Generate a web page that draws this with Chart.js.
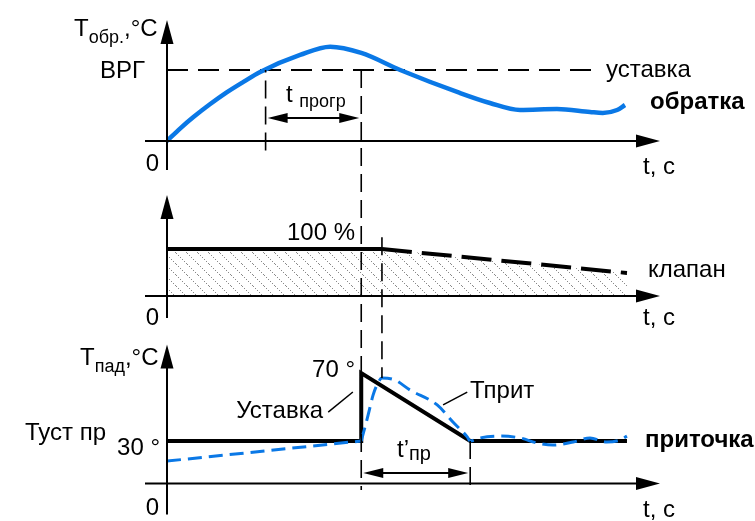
<!DOCTYPE html>
<html>
<head>
<meta charset="utf-8">
<script src="https://cdn.jsdelivr.net/npm/chart.js@4/dist/chart.umd.min.js"></script>
<style>
html, body { margin: 0; background: #fff; }
</style>
</head>
<body>
<canvas id="c" width="755" height="521"></canvas>
<script>
// time marks (arbitrary units, 0..100 across the plot)
const T_CROSS = 20;     // return temp crosses ВРГ
const T_STEP = 39.4;    // end of t прогр, supply setpoint jumps
const T_VALVE = 43.6;   // valve starts closing
const T_SETTLE = 61.5;  // end of t'пр
const T_END = 93.3;

const VRG = 60; // уставка ВРГ (relative)

// обратка (return water)
const obrT = [0, 2.7, 5.3, 8.7, 12.1, 15.5, 18.9, 27, 33.1, 39.4, 47.3, 59.4, 65.5, 71.6, 79.1, 85.8, 88.4, 91.3, 92.9];
const obrV = [0, 10.7, 20, 31, 41.1, 50, 58.4, 72.7, 79.7, 74.4, 60, 40.6, 32.1, 26.2, 27, 24.5, 23.7, 26.2, 30.4];

// клапан, %
const valveT = [0, T_VALVE, T_END];
const valveV = [100, 100, 49];

// уставка приточки, °C
const spT = [0, T_STEP, T_STEP, T_SETTLE, T_END];
const spV = [30, 30, 70, 30, 30];

// Тприт, °C
const prLinT = [0, T_STEP];
const prLinV = [18.2, 30];
const prT = [39.4, 40.8, 41.8, 42.6, 43.6, 46.2, 49.3, 54.8, 58, 60.9, 61.5, 63.5, 67.5, 71.6, 75.1, 78.3, 82.4, 85.8, 89.2, 91.9, 93.3];
const prV = [30, 45.3, 57, 63, 67, 65.9, 60, 51.2, 41.2, 32.4, 30, 31.8, 32.9, 31.8, 28.8, 27.6, 29.4, 31.8, 29.4, 30.6, 32.9];

const BLUE = '#0a78e6';
const FONT = '"Liberation Sans", Arial, sans-serif';

function pts(xs, ys) {
	return xs.map(function (x, i) { return { x: x, y: ys[i] }; });
}

// y range so that value v0 sits at pixel p0 and v1 at p1 (canvas is 521 high)
function band(v0, p0, v1, p1) {
	var k = (p0 - p1) / (v1 - v0);
	return { min: v0 - (521 - p0) / k, max: v0 + p0 / k };
}

var ctx = document.getElementById('c').getContext('2d');

// dotted "\" hatching for the valve area
var tile = document.createElement('canvas');
tile.width = 11; tile.height = 11;
var tg = tile.getContext('2d');
tg.fillStyle = '#8a8a8a';
for (var i = 0; i < 11; i += 2) tg.fillRect(i, i, 1, 1);
var hatch = ctx.createPattern(tile, 'repeat');

function arrowHead(g, x, y, dir, len, half) {
	g.beginPath();
	if (dir === 'up') { g.moveTo(x, y); g.lineTo(x - half, y + len); g.lineTo(x + half, y + len); }
	if (dir === 'right') { g.moveTo(x, y); g.lineTo(x - len, y - half); g.lineTo(x - len, y + half); }
	if (dir === 'left') { g.moveTo(x, y); g.lineTo(x + len, y - half); g.lineTo(x + len, y + half); }
	g.closePath();
	g.fill();
}

function text(g, s, x, y, align, font) {
	g.font = font || ('24px ' + FONT);
	g.textAlign = align || 'left';
	g.textBaseline = 'alphabetic';
	g.fillText(s, x, y);
}

// main text + smaller index + tail, e.g. Тобр.,°C
function indexed(g, x, y, main, sub, tail, subDy, subSize) {
	g.textAlign = 'left';
	g.font = '24px ' + FONT;
	g.fillText(main, x, y);
	x += g.measureText(main).width;
	g.font = subSize + 'px ' + FONT;
	g.fillText(sub, x, y + subDy);
	x += g.measureText(sub).width;
	g.font = '24px ' + FONT;
	if (tail) g.fillText(tail, x, y);
}

var decor = {
	id: 'decor',
	afterDatasetsDraw: function (chart) {
		var g = chart.ctx, s = chart.scales;
		var xs = s.x;
		var X = function (t) { return xs.getPixelForValue(t); };
		var x0 = X(0), xEnd = xs.right;
		g.save();
		g.fillStyle = '#000';
		g.strokeStyle = '#000';

		// axes
		[['yObr', 0, 29, 121], ['yValve', 0, 22, 101], ['ySup', 5, 31, 139]].forEach(function (a) {
			var y0 = s[a[0]].getPixelForValue(a[1]);
			g.lineWidth = 2;
			g.setLineDash([]);
			g.beginPath();
			g.moveTo(x0, y0 + a[2]); g.lineTo(x0, y0 - a[3] + 20);
			g.moveTo(145, y0); g.lineTo(xEnd - 20, y0);
			g.stroke();
			arrowHead(g, x0, y0 - a[3], 'up', 24, 6.5);
			arrowHead(g, xEnd, y0, 'right', 24, 6.5);
		});

		// vertical guides (drawn from the first point to the second)
		g.lineWidth = 1.6;
		g.setLineDash([18, 8]);
		[
			[T_CROSS, 'yObr', -8, 'yObr', VRG],
			[T_STEP, 'yObr', VRG, 'ySup', 1.2],
			[T_VALVE, 'yValve', 125, 'ySup', 67],
			[T_SETTLE, 'ySup', 30, 'ySup', 1.2]
		].forEach(function (v) {
			g.beginPath();
			g.moveTo(X(v[0]), s[v[1]].getPixelForValue(v[2]));
			g.lineTo(X(v[0]), s[v[3]].getPixelForValue(v[4]));
			g.stroke();
		});
		g.setLineDash([]);

		// span arrows
		[[T_CROSS, T_STEP, 'yObr', 19.4], [T_STEP, T_SETTLE, 'ySup', 11.2]].forEach(function (r) {
			var xa = X(r[0]) + 2, xb = X(r[1]) - 2, y = s[r[2]].getPixelForValue(r[3]);
			g.lineWidth = 2;
			g.beginPath(); g.moveTo(xa + 15, y); g.lineTo(xb - 15, y); g.stroke();
			arrowHead(g, xa, y, 'left', 20, 5);
			arrowHead(g, xb, y, 'right', 20, 5);
		});

		// callout leaders
		g.lineWidth = 1.5;
		[[32.7, 47, 37.7, 58.8], [56, 51.2, 60.9, 58.8]].forEach(function (l) {
			g.beginPath();
			g.moveTo(X(l[0]), s.ySup.getPixelForValue(l[1]));
			g.lineTo(X(l[2]), s.ySup.getPixelForValue(l[3]));
			g.stroke();
		});

		// texts
		indexed(g, 74, 36, 'Т', 'обр.', ',°C', 7, 18);
		indexed(g, 80, 365, 'Т', 'пад', ',°C', 7, 18);
		indexed(g, 286, 102, 't ', 'прогр', '', 5, 18);
		indexed(g, 397, 457, 't’', 'пр', '', 3, 20);
		text(g, 'ВРГ', 145, 78, 'right');
		text(g, '0', 159, 171, 'right');
		text(g, 'уставка', 606, 77);
		text(g, 'обратка', 650, 109, 'left', 'bold 24px ' + FONT);
		text(g, 't, c', 643, 174);
		text(g, '100 %', 355, 240, 'right');
		text(g, '0', 159, 325, 'right');
		text(g, 'клапан', 648, 277);
		text(g, 't, c', 643, 325);
		text(g, '70 °', 355, 377, 'right');
		text(g, 'Уставка', 323, 418, 'right');
		text(g, 'Туст пр', 25, 440);
		text(g, '30 °', 160, 455, 'right');
		text(g, '0', 159, 515, 'right');
		text(g, 'Тприт', 470, 398);
		text(g, 'приточка', 645, 447, 'left', 'bold 24px ' + FONT);
		text(g, 't, c', 643, 517);
		g.restore();
	}
};

var yObr = band(0, 141, VRG, 70);
var yValve = band(0, 296, 100, 249);
var ySup = band(30, 441, 70, 373);

new Chart(ctx, {
	type: 'scatter',
	data: {
		datasets: [
			{
				label: 'обратка', yAxisID: 'yObr', data: pts(obrT, obrV),
				showLine: true, borderColor: BLUE, borderWidth: 4.5, cubicInterpolationMode: 'monotone', pointRadius: 0
			},
			{
				label: 'Тприт', yAxisID: 'ySup', data: pts(prT, prV),
				showLine: true, borderColor: BLUE, borderWidth: 3, borderDash: [14, 7], cubicInterpolationMode: 'monotone', pointRadius: 0
			},
			{
				label: 'Тприт нач', yAxisID: 'ySup', data: pts(prLinT, prLinV),
				showLine: true, borderColor: BLUE, borderWidth: 3, borderDash: [14, 7], pointRadius: 0
			},
			{
				label: 'уставка приточки', yAxisID: 'ySup', data: pts(spT, spV),
				showLine: true, borderColor: '#000', borderWidth: 4, pointRadius: 0
			},
			{
				label: 'ВРГ', yAxisID: 'yObr', data: pts([0, 87.8], [VRG, VRG]),
				showLine: true, borderColor: '#000', borderWidth: 1.8, borderDash: [21, 10], pointRadius: 0
			},
			{
				label: 'клапан', yAxisID: 'yValve', data: pts(valveT, valveV),
				showLine: true, borderColor: '#000', borderWidth: 4, pointRadius: 0,
				fill: 'origin', backgroundColor: hatch,
				segment: { borderDash: function (c) { return c.p0DataIndex >= 1 ? [30, 10] : undefined; } }
			}
		]
	},
	options: {
		responsive: false,
		animation: false,
		devicePixelRatio: 1,
		layout: { padding: { left: 167, right: 95, top: 0, bottom: 0 } },
		plugins: { legend: { display: false }, tooltip: { enabled: false } },
		scales: {
			x: { type: 'linear', display: false, min: 0, max: 100 },
			yObr: { type: 'linear', display: false, min: yObr.min, max: yObr.max },
			yValve: { type: 'linear', display: false, min: yValve.min, max: yValve.max },
			ySup: { type: 'linear', display: false, min: ySup.min, max: ySup.max }
		}
	},
	plugins: [decor]
});
</script>
</body>
</html>
